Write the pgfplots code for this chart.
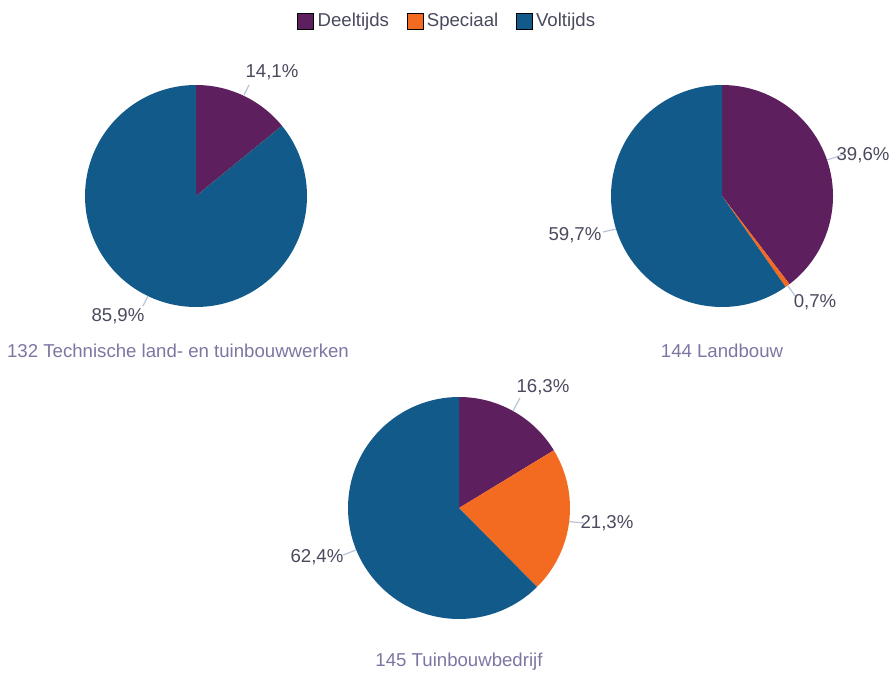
\documentclass[border=0pt]{standalone}
\usepackage{pgfplots}
\pgfplotsset{compat=1.18}
\usepackage{fontspec}
\setmainfont{Liberation Sans}

\definecolor{deel}{HTML}{5E1F5E}
\definecolor{spec}{HTML}{F26B21}
\definecolor{volt}{HTML}{115A8A}
\definecolor{lbl}{HTML}{4A4A5E}
\definecolor{ttl}{HTML}{7C76A2}
\definecolor{lead}{HTML}{B9C6DA}

% one pixel of the reference = 0.2mm
\newcommand{\R}{22.2mm}
% pie at (cx,cy) in pixels, shares in percent: Deeltijds, Speciaal, Voltijds
\newcommand{\pie}[5]{\pgfplotsextra{%
  \pgfmathsetmacro\aA{90-#3*3.6}%
  \pgfmathsetmacro\aB{\aA-#4*3.6}%
  \fill[deel] (axis cs:#1,#2) -- ([shift={(90:\R)}]axis cs:#1,#2) arc[start angle=90, end angle=\aA, radius=\R] -- cycle;
  \fill[spec] (axis cs:#1,#2) -- ([shift={(\aA:\R)}]axis cs:#1,#2) arc[start angle=\aA, end angle=\aB, radius=\R] -- cycle;
  \fill[volt] (axis cs:#1,#2) -- ([shift={(\aB:\R)}]axis cs:#1,#2) arc[start angle=\aB, end angle=-270, radius=\R] -- cycle;
}}

\begin{document}
\begin{tikzpicture}
\begin{axis}[
    scale only axis,
    width=17.92cm, height=13.46cm,
    xmin=0, xmax=896, ymin=0, ymax=673,
    y dir=reverse,
    hide axis,
    clip=false,
    font=\fontsize{10.6}{12.5}\selectfont,
    legend columns=3,
    legend style={at={(axis cs:448,21)}, anchor=center, draw=none, fill=none,
        text=lbl, font=\fontsize{10.6}{12.5}\selectfont,
        /tikz/every even column/.append style={column sep=8pt}},
    legend image code/.code={\fill[#1] (0pt,-1.6mm) rectangle (3.2mm,1.6mm);},
]
\addlegendimage{fill=deel}\addlegendentry{Deeltijds}
\addlegendimage{fill=spec}\addlegendentry{Speciaal}
\addlegendimage{fill=volt}\addlegendentry{Voltijds}

% keep the whole canvas
\path (axis cs:0,0) rectangle (axis cs:896,673);

% 132 Technische land- en tuinbouwwerken
\pie{196}{196}{14.1}{0}{85.9}
% 144 Landbouw
\pie{722}{196}{39.6}{0.7}{59.7}
% 145 Tuinbouwbedrijf
\pie{459}{508}{16.3}{21.3}{62.4}

% leader lines
\draw[lead, line width=0.25mm] (axis cs:243.6,95.7) -- (axis cs:249,85);
\draw[lead, line width=0.25mm] (axis cs:148,296) -- (axis cs:143,306);
\draw[lead, line width=0.25mm] (axis cs:827,160) -- (axis cs:842,155);
\draw[lead, line width=0.25mm] (axis cs:787.6,285.6) -- (axis cs:796,297);
\draw[lead, line width=0.25mm] (axis cs:616,229) -- (axis cs:603,232);
\draw[lead, line width=0.25mm] (axis cs:513,411) -- (axis cs:520,398);
\draw[lead, line width=0.25mm] (axis cs:569,521.6) -- (axis cs:584,523);
\draw[lead, line width=0.25mm] (axis cs:356,550) -- (axis cs:343,555);

% value labels
\node[text=lbl] at (axis cs:272,72) {14,1\%};
\node[text=lbl] at (axis cs:118,316) {85,9\%};
\node[text=lbl] at (axis cs:863,155) {39,6\%};
\node[text=lbl] at (axis cs:815,302) {0,7\%};
\node[text=lbl] at (axis cs:575,235) {59,7\%};
\node[text=lbl] at (axis cs:543,387) {16,3\%};
\node[text=lbl] at (axis cs:607,523) {21,3\%};
\node[text=lbl] at (axis cs:317,557) {62,4\%};

% pie titles
\node[text=ttl] at (axis cs:178,351) {132 Technische land- en tuinbouwwerken};
\node[text=ttl] at (axis cs:722,351) {144 Landbouw};
\node[text=ttl] at (axis cs:459,662) {145 Tuinbouwbedrijf};
\end{axis}
\end{tikzpicture}
\end{document}
